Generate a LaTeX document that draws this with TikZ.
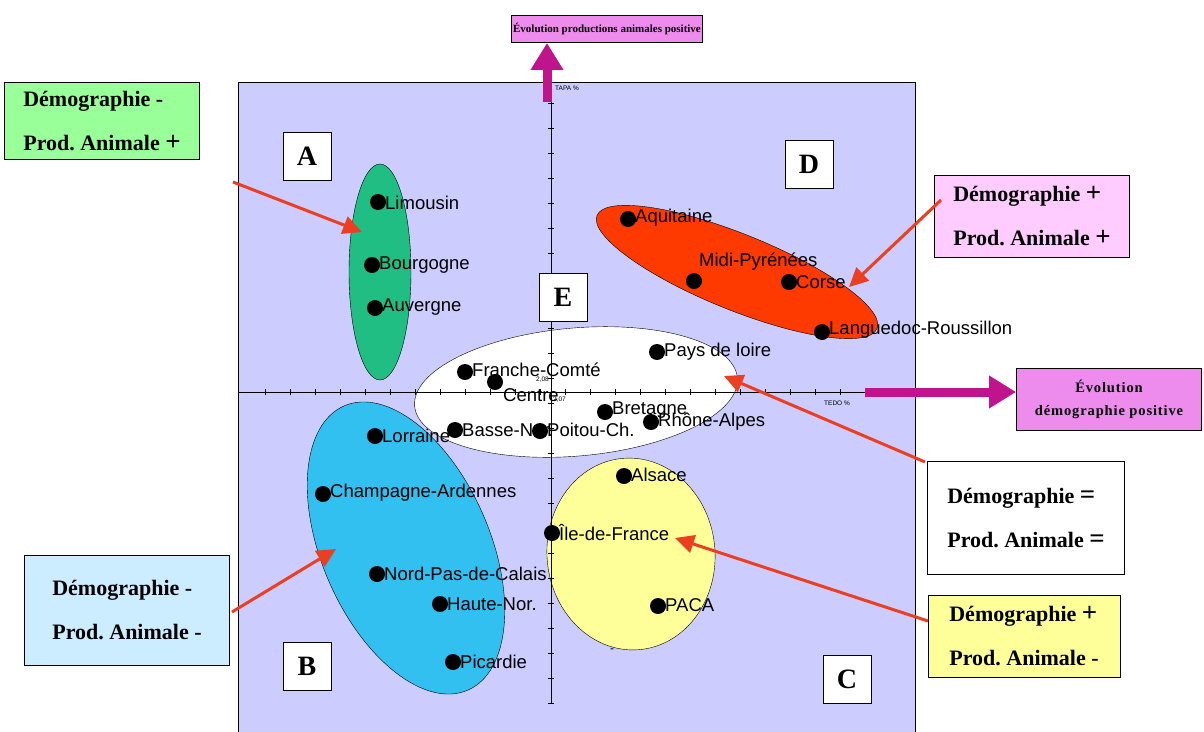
\documentclass[tikz,border=0pt]{standalone}
\usepackage{fontspec}
\setmainfont{Liberation Serif}
\newfontfamily\regionfont{Liberation Sans}
\newfontfamily\widefont[LetterSpace=6]{Liberation Serif}
\usetikzlibrary{arrows.meta}

\definecolor{plotbg}{RGB}{204,204,255}
\definecolor{greenell}{RGB}{32,190,130}
\definecolor{redell}{RGB}{255,58,0}
\definecolor{blueell}{RGB}{50,192,240}
\definecolor{yellowell}{RGB}{255,255,153}
\definecolor{greenbox}{RGB}{153,255,153}
\definecolor{pinkbox}{RGB}{255,204,255}
\definecolor{bluebox}{RGB}{204,236,255}
\definecolor{violetbox}{RGB}{238,140,238}
\definecolor{magarrow}{RGB}{192,20,140}
\definecolor{redarrow}{RGB}{236,62,32}

\newcommand{\bigsign}[1]{{\fontsize{27}{44}\selectfont #1}}

\begin{document}
\begin{tikzpicture}[x=1pt,y=1pt,yscale=-1,xscale=1,
  region/.style={anchor=west,inner sep=0pt,font=\regionfont\fontsize{18.5}{20}\selectfont},
  dot/.style={circle,fill=black,inner sep=0pt,minimum size=16pt},
  letterbox/.style={draw,fill=white,line width=1pt,minimum size=48pt,inner sep=0pt,font=\bfseries\fontsize{28}{30}\selectfont},
  legend/.style={draw,line width=0.8pt,align=left,inner sep=0pt,font=\bfseries\fontsize{22}{44}\selectfont},
  axislabel/.style={inner sep=0pt,font=\regionfont\fontsize{6.5}{7}\selectfont},
  pointer/.style={draw=redarrow,line width=3pt,-{Triangle[length=19pt,width=18pt]}},
  bigarrow/.style={draw=magarrow,line width=9pt,-{Triangle[length=27pt,width=31pt]}}
  ]
\useasboundingbox (0,0) rectangle (1204,731);

%Shape: plot area
\draw [fill=plotbg] (238,82) rectangle (915,740);

%Shape: Ellipses of the groups
\draw [fill=greenell] (380,272) ellipse [x radius=31, y radius=108];
\draw [fill=redell, rotate around={22:(737,272)}] (737,272) ellipse [x radius=151, y radius=38];
\draw [fill=white, rotate around={-5:(576,392)}] (576,392) ellipse [x radius=162, y radius=64];
\draw [fill=blueell, rotate around={66.5:(406,548)}] (406,548) ellipse [x radius=155, y radius=84];
\draw [fill=yellowell, rotate around={-5:(631,554)}] (631,554) ellipse [x radius=84, y radius=96];

%Straight Lines: axes
\coordinate (haxisend) at (865,392);
\coordinate (vaxisend) at (547,102);
\draw (238,392) -- (865,392);
\foreach \x in {265,290,...,865} \draw (\x,389) -- (\x,395);
\draw (551,100) -- (551,703);
\foreach \y in {103,128,...,703} \draw (548,\y) -- (554,\y);

% Text Node: axis labels
\node [axislabel, anchor=west] (tapa) at (555,88) {TAPA \%};
\node [axislabel, anchor=west] (tedo) at (824,403) {TEDO \%};
\node [axislabel, anchor=east] (val1) at (549,380) {2,08};
\node [axislabel, anchor=west] (val2) at (553,400) {2,07};
\node [axislabel, font=\regionfont\fontsize{12}{12}\selectfont] (dash) at (612,651) {-};

%Shape: letter boxes
\node [letterbox] (boxA) at (307,156) {A};
\node [letterbox] (boxD) at (809,164) {D};
\node [letterbox] (boxE) at (563,297) {E};
\node [letterbox] (boxB) at (307,666) {B};
\node [letterbox] (boxC) at (847,679) {C};

%Shape: regions
\node [dot] (limousin) at (378,202) {};
\node [dot] (bourgogne) at (372,265) {};
\node [dot] (auvergne) at (375,308) {};
\node [dot] (aquitaine) at (628,219) {};
\node [dot] (midipyr) at (694,281) {};
\node [dot] (corse) at (789,282) {};
\node [dot] (languedoc) at (822,332) {};
\node [dot] (paysloire) at (657,352) {};
\node [dot] (franche) at (465,372) {};
\node [dot] (centre) at (495,382) {};
\node [dot] (bretagne) at (605,412) {};
\node [dot] (rhone) at (651,422) {};
\node [dot] (bassenor) at (455,430) {};
\node [dot] (poitou) at (540,431) {};
\node [dot] (lorraine) at (375,436) {};
\node [dot] (champagne) at (323,494) {};
\node [dot] (nordpas) at (377,574) {};
\node [dot] (hautenor) at (440,604) {};
\node [dot] (picardie) at (453,662) {};
\node [dot] (alsace) at (624,476) {};
\node [dot] (iledefrance) at (552,533) {};
\node [dot] (paca) at (658,606) {};

% Text Node: region names
\node [region] (limousin-l) at (385,203) {Limousin};
\node [region] (bourgogne-l) at (379,265) {Bourgogne};
\node [region] (auvergne-l) at (382,307) {Auvergne};
\node [region] (aquitaine-l) at (635,218) {Aquitaine};
\node [region] (midipyr-l) at (699,262) {Midi-Pyrénées};
\node [region] (corse-l) at (796,282) {Corse};
\node [region] (languedoc-l) at (829,330) {Languedoc-Roussillon};
\node [region] (paysloire-l) at (664,352) {Pays de loire};
\node [region] (franche-l) at (472,370) {Franche-Comté};
\node [region] (centre-l) at (503,395) {Centre};
\node [region] (bretagne-l) at (612,410) {Bretagne};
\node [region] (rhone-l) at (658,422) {Rhône-Alpes};
\node [region] (bassenor-l) at (462,430) {Basse-Nor.};
\node [region] (poitou-l) at (547,430) {Poitou-Ch.};
\node [region] (lorraine-l) at (382,436) {Lorraine};
\node [region] (champagne-l) at (330,493) {Champagne-Ardennes};
\node [region] (nordpas-l) at (384,574) {Nord-Pas-de-Calais};
\node [region] (hautenor-l) at (447,604) {Haute-Nor.};
\node [region] (picardie-l) at (460,662) {Picardie};
\node [region] (alsace-l) at (631,475) {Alsace};
\node [region] (iledefrance-l) at (559,532) {Île-de-France};
\node [region] (paca-l) at (665,605) {PACA};

% Text Node: legend boxes
\node [legend, fill=greenbox, minimum width=195pt, minimum height=77pt] (legA) at (102,121) {Démographie -\\Prod.\ Animale \bigsign{+}};
\node [legend, fill=pinkbox, minimum width=195pt, minimum height=82pt] (legD) at (1032,216) {Démographie \bigsign{+}\\Prod.\ Animale \bigsign{+}};
\node [legend, fill=white, minimum width=197pt, minimum height=113pt] (legE) at (1026,518) {Démographie \bigsign{=}\\Prod.\ Animale \bigsign{=}};
\node [legend, fill=yellowell, minimum width=192pt, minimum height=82pt] (legC) at (1024,636) {Démographie \bigsign{+}\\Prod.\ Animale -};
\node [legend, fill=bluebox, minimum width=205pt, minimum height=110pt] (legB) at (127,610) {Démographie -\\Prod.\ Animale -};

\node [draw, fill=violetbox, line width=0.8pt, minimum width=191pt, minimum height=27pt, inner sep=0pt, font=\bfseries\fontsize{11}{13}\selectfont] (topbox) at (607,29) {Évolution productions animales positive};
\node [draw, fill=violetbox, line width=0.8pt, minimum width=185pt, minimum height=62pt, inner sep=0pt, align=center, font=\widefont\bfseries\fontsize{14.5}{23}\selectfont] (rightbox) at (1109,399) {Évolution\\démographie positive};

%Straight Lines: big arrows
\draw [bigarrow] (vaxisend) -- (vaxisend |- topbox.south);
\draw [bigarrow] (haxisend) -- (haxisend -| rightbox.west);

%Straight Lines: pointers
\coordinate (tailA) at (233,182);
\coordinate (headA) at (362,232);
\coordinate (tailD) at (941,200);
\coordinate (headD) at (849,287);
\coordinate (tailE) at (925,462);
\coordinate (headE) at (724,376);
\coordinate (tailC) at (928,621);
\coordinate (headC) at (675,538);
\coordinate (tailB) at (232,612);
\coordinate (headB) at (336,549);
\draw [pointer] (tailA) -- (headA);
\draw [pointer] (tailD) -- (headD);
\draw [pointer] (tailE) -- (headE);
\draw [pointer] (tailC) -- (headC);
\draw [pointer] (tailB) -- (headB);

\end{tikzpicture}
\end{document}
